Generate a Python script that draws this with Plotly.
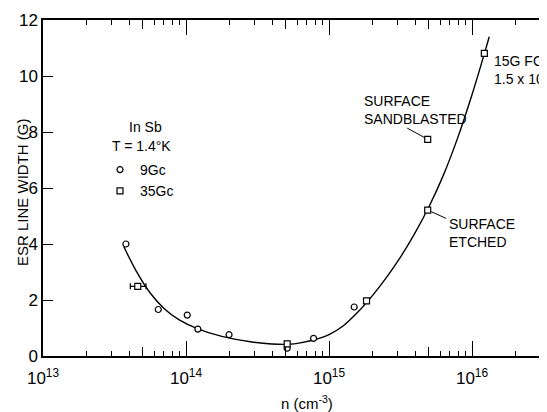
import math
import plotly.graph_objects as go

# ---- data ----
circle_n = [3.8e13, 6.4e13, 1.02e14, 1.21e14, 2.0e14, 5.1e14, 7.8e14, 1.5e15]
circle_w = [4.0, 1.66, 1.46, 0.96, 0.76, 0.28, 0.63, 1.75]

square_n = [4.6e13, 5.1e14, 1.83e15, 4.9e15, 4.9e15, 1.22e16]
square_w = [2.49, 0.43, 1.97, 5.21, 7.74, 10.81]

err_plus = [0.65e13]
err_minus = [0.52e13]

curve_n = [3.67e13, 4.47e13, 5.62e13, 7.08e13, 8.91e13, 1.20e14, 1.78e14, 2.82e14,
           3.98e14, 5.25e14, 6.31e14, 7.94e14, 1.00e15, 1.26e15, 1.58e15, 2.00e15,
           2.51e15, 3.16e15, 3.98e15, 5.01e15, 6.31e15, 7.94e15, 1.00e16, 1.26e16, 1.32e16]
curve_w = [3.91, 3.05, 2.25, 1.68, 1.30, 0.98, 0.70, 0.51,
           0.43, 0.42, 0.47, 0.58, 0.76, 1.08, 1.55, 2.14,
           2.79, 3.53, 4.38, 5.34, 6.46, 7.79, 9.33, 11.04, 11.40]

major_ticks = [1e13, 1e14, 1e15, 1e16]
major_text = ["10<sup>13</sup>", "10<sup>14</sup>", "10<sup>15</sup>", "10<sup>16</sup>"]
five_ticks = [5e13, 5e14, 5e15]
minor_ticks = [m * 10 ** e for e in (13, 14, 15, 16) for m in (2, 3, 4, 5, 6, 7, 8, 9)]
y_ticks = [0, 2, 4, 6, 8, 10, 12]

FONT = "Liberation Sans Narrow, Arial Narrow, Liberation Sans, Arial, sans-serif"

# page has an 8px body margin: size the figure so the plot lands where the reference has it
OFF = 8
PAGE_W, PAGE_H = 547, 412
W, H = PAGE_W - OFF, PAGE_H - OFF
L, R, T, B = 43, 547, 20, 356   # plot area in page pixels


def px(x):
    return (x - L) / (R - L)


def py(y):
    return (B - y) / (B - T)


fig = go.Figure()

fig.add_trace(go.Scatter(x=curve_n, y=curve_w, mode="lines",
                         line=dict(color="black", width=1.4, shape="spline", smoothing=1.0),
                         showlegend=False, hoverinfo="skip"))
# dummy trace so the overlay axis (5x ticks) gets drawn
fig.add_trace(go.Scatter(x=curve_n, y=curve_w, mode="lines", xaxis="x2", opacity=0,
                         line=dict(width=0), showlegend=False, hoverinfo="skip"))
fig.add_trace(go.Scatter(x=square_n[:1], y=square_w[:1], mode="markers",
                         marker=dict(size=1, color="black"),
                         error_x=dict(type="data", symmetric=False, array=err_plus, arrayminus=err_minus,
                                      color="black", thickness=1.2, width=3),
                         showlegend=False, hoverinfo="skip"))
fig.add_trace(go.Scatter(x=circle_n, y=circle_w, mode="markers", name="9Gc",
                         marker=dict(symbol="circle", size=6, color="white", line=dict(color="black", width=1.2))))
fig.add_trace(go.Scatter(x=square_n, y=square_w, mode="markers", name="35Gc",
                         marker=dict(symbol="square", size=6, color="white", line=dict(color="black", width=1.2))))

xrange = [13, 13 + (R - L) / 143.0]

annots = [
    dict(text="In Sb", x=px(145), y=py(127), xanchor="center", yanchor="middle"),
    dict(text="T = 1.4°K", x=px(141), y=py(146), xanchor="center", yanchor="middle"),
    dict(text="SURFACE<br>SANDBLASTED", x=px(362), y=py(110), xanchor="left", yanchor="middle", align="left"),
    dict(text="SURFACE<br>ETCHED", x=px(447), y=py(233), xanchor="left", yanchor="middle", align="left"),
    dict(text="15G FOR<br>1.5 x 10<sup>16</sup>", x=px(492), y=py(70), xanchor="left", yanchor="middle", align="left"),
    dict(text="ESR LINE WIDTH (G)", x=px(22), y=py(192), xanchor="center", yanchor="middle", textangle=-90, size=15),
    dict(text="n (cm<sup>-3</sup>)", x=px(307), y=py(402), xanchor="center", yanchor="middle", size=15),
]
for a in annots:
    size = a.pop("size", 14)
    fig.add_annotation(xref="paper", yref="paper", showarrow=False,
                       font=dict(family=FONT, size=size, color="black"), **a)

# leader lines to the 4.9e15 squares
fig.add_annotation(x=math.log10(square_n[4]), y=square_w[4], xref="x", yref="y", text="", showarrow=True,
                   arrowhead=0, arrowwidth=1, arrowcolor="black", ax=-22, ay=-12, standoff=4)
fig.add_annotation(x=math.log10(square_n[3]), y=square_w[3], xref="x", yref="y", text="", showarrow=True,
                   arrowhead=0, arrowwidth=1, arrowcolor="black", ax=20, ay=9, standoff=4)

axis_common = dict(type="log", range=xrange, showgrid=False, zeroline=False)

fig.update_layout(
    width=W, height=H,
    margin=dict(l=L - OFF, r=PAGE_W - R, t=T - OFF, b=PAGE_H - B),
    paper_bgcolor="white", plot_bgcolor="white",
    font=dict(family=FONT, size=17, color="black"),
    showlegend=True,
    legend=dict(x=px(100), y=py(154), xanchor="left", yanchor="top", bgcolor="rgba(0,0,0,0)",
                font=dict(family=FONT, size=14, color="black"), tracegroupgap=0,
                itemwidth=30),
    xaxis=dict(**axis_common, tickmode="array", tickvals=major_ticks, ticktext=major_text,
               ticks="inside", ticklen=15, tickwidth=1.4, tickcolor="black",
               showline=True, linecolor="black", linewidth=1.5, mirror="ticks",
               ticklabelstandoff=6,
               minor=dict(tickmode="array", tickvals=minor_ticks, ticks="inside", ticklen=5,
                          tickwidth=1.2, tickcolor="black", showgrid=False),
               tickfont=dict(family=FONT, size=17, color="black")),
    xaxis2=dict(**axis_common, overlaying="x", anchor="y", side="bottom", tickmode="array",
                tickvals=five_ticks, ticks="inside", ticklen=9, tickwidth=1.2, tickcolor="black",
                showticklabels=False, showline=False, mirror="ticks"),
    yaxis=dict(range=[0, 12], tickmode="array", tickvals=y_ticks, ticks="inside", ticklen=10,
               tickwidth=1.4, tickcolor="black", showline=True, linecolor="black", linewidth=1.5,
               showgrid=False, zeroline=False, tickfont=dict(family=FONT, size=17, color="black")),
)

fig.write_html("out.html")
